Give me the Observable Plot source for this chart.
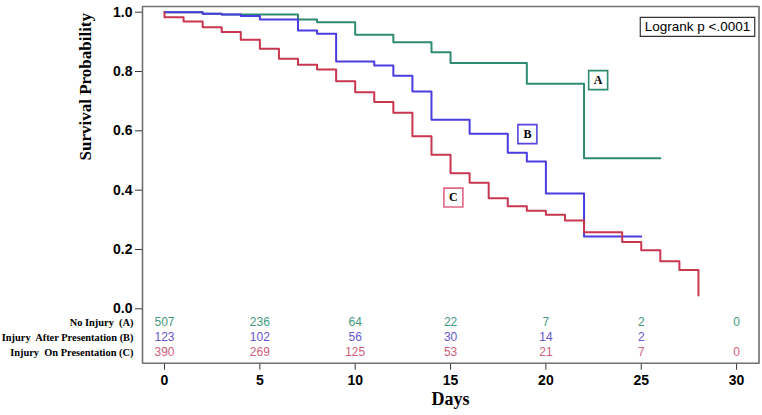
<!DOCTYPE html>
<html>
<head>
<meta charset="utf-8">
<script src="https://cdn.jsdelivr.net/npm/d3@7"></script>
<script src="https://cdn.jsdelivr.net/npm/@observablehq/plot@0.6"></script>
<style>
  html, body { margin: 0; padding: 0; background: #fff; color: #000; }
  svg text { white-space: pre; }
</style>
</head>
<body>
<div id="chart"></div>
<script>
// ---- Data ----
const groups = ["A", "B", "C"];
const groupNames = ["No Injury  (A)", "Injury  After Presentation (B)", "Injury  On Presentation (C)"];

// Kaplan-Meier step curves (event day, survival probability from that day on)
const daysA = [0, 2, 3, 7, 8, 10, 12, 14, 15, 19, 22, 26];
const survA = [1.0, 0.995, 0.992, 0.975, 0.966, 0.924, 0.899, 0.865, 0.829, 0.759, 0.508, 0.508];

const daysB = [0, 2, 3, 4, 5, 7, 8, 9, 11, 12, 13, 14, 16, 18, 19, 20, 22, 25];
const survB = [1.0, 0.995, 0.992, 0.987, 0.975, 0.938, 0.927, 0.834, 0.820, 0.786, 0.733, 0.637, 0.590, 0.526, 0.497, 0.389, 0.244, 0.244];

const daysC = [0, 0, 1, 2, 3, 4, 5, 6, 7, 8, 9, 10, 11, 12, 13, 14, 15, 16, 17, 18, 19, 20, 21, 22, 24, 25, 26, 27, 28];
const survC = [1.0, 0.983, 0.969, 0.949, 0.933, 0.907, 0.877, 0.843, 0.823, 0.807, 0.767, 0.730, 0.697, 0.661, 0.582, 0.519, 0.457, 0.425, 0.373, 0.346, 0.331, 0.317, 0.298, 0.258, 0.225, 0.197, 0.160, 0.131, 0.045];

// Number at risk table
const riskDays = [0, 5, 10, 15, 20, 25, 30];
const riskA = [507, 236, 64, 22, 7, 2, 0];
const riskB = [123, 102, 56, 30, 14, 2, null];
const riskC = [390, 269, 125, 53, 21, 7, 0];

// Curve label boxes (annotation positions in data units)
const labelDays = [22.74, 19.03, 15.15];
const labelSurv = [0.771, 0.589, 0.375];

// Axis ticks
const xTicks = [0, 5, 10, 15, 20, 25, 30];
const yTicks = [0, 0.2, 0.4, 0.6, 0.8, 1.0];

const logrankText = "Logrank p <.0001";

// ---- Scale extents (frame includes the at-risk table below 0) ----
const xDomain = [-1.154, 31.175];
const yDomain = [-0.1834, 1.0192];

// ---- Styles ----
const curveColors = ["#2e8a70", "#4a3de0", "#c8364f"];
const riskColors = ["#3f9a80", "#6657cc", "#d0607a"];
const boxColors = ["#2e8a70", "#5545dd", "#e06585"];

// ---- Build tables ----
const curveRows = [];
[[daysA, survA], [daysB, survB], [daysC, survC]].forEach(([d, s], gi) => {
  d.forEach((day, i) => curveRows.push({group: groups[gi], day, surv: s[i]}));
});

const riskSeries = [riskA, riskB, riskC];
const riskRows = groups.map((g, gi) =>
  riskDays.map((day, i) => ({group: g, day, n: riskSeries[gi][i]})).filter(r => r.n !== null)
);

const labelRows = groups.map((g, i) => ({group: g, day: labelDays[i], surv: labelSurv[i], color: boxColors[i]}));

// border outline at the scale extents
const borderRows = [
  {x: xDomain[0], y: yDomain[0]}, {x: xDomain[1], y: yDomain[0]},
  {x: xDomain[1], y: yDomain[1]}, {x: xDomain[0], y: yDomain[1]},
  {x: xDomain[0], y: yDomain[0]}
];

const serif = "'Liberation Serif', 'Times New Roman', serif";
const sans = "'Liberation Sans', Arial, sans-serif";

const chart = Plot.plot({
  width: 762,
  height: 415,
  marginLeft: 142,
  marginRight: 3.5,
  marginTop: 6,
  marginBottom: 52.3,
  x: {domain: xDomain},
  y: {domain: yDomain},
  color: {domain: groups, range: curveColors},
  marks: [
    Plot.axisY({ticks: yTicks, tickFormat: d3.format(".1f"), tickSize: 7, tickPadding: 3, fontFamily: sans, fontSize: 14, fontWeight: "bold", fill: "black", stroke: "#333", label: null}),
    Plot.axisX({ticks: xTicks, tickSize: 7, tickPadding: 5, fontFamily: sans, fontSize: 14, fontWeight: "bold", fill: "black", stroke: "#333", label: null}),
    Plot.line(curveRows, {x: "day", y: "surv", z: "group", stroke: "group", curve: "step-after", strokeWidth: 2}),
    // curve label boxes
    Plot.dot(labelRows, {x: "day", y: "surv", symbol: "square", r: 10.7, stroke: d => d.color, fill: "white", strokeWidth: 1.6}),
    Plot.text(labelRows, {x: "day", y: "surv", text: "group", fontFamily: serif, fontWeight: "bold", fontSize: 12, fill: "black"}),
    // logrank annotation
    Plot.text([logrankText], {frameAnchor: "top-right", dx: -61.5, dy: 15.2, text: d => d, textAnchor: "middle", fontFamily: sans, fontSize: 13.5, fill: "black"}),
    // at-risk numbers
    ...riskRows.map((rows, gi) =>
      Plot.text(rows, {x: "day", y: () => 0, dy: 13.4 + 15 * gi, text: d => String(d.n), fill: riskColors[gi], fontFamily: sans, fontSize: 12})
    ),
    // at-risk row labels
    ...groupNames.map((name, gi) =>
      Plot.text([name], {frameAnchor: "left", y: () => 0, dx: -9, dy: 13.4 + 15 * gi, text: d => d, textAnchor: "end", fontFamily: serif, fontWeight: "bold", fontSize: 10.4, fill: "black"})
    ),
    // axis titles
    Plot.text(["Days"], {x: () => 15, frameAnchor: "bottom", dy: 41.5, text: d => d, fontFamily: serif, fontWeight: "bold", fontSize: 18, fill: "black"}),
    Plot.text(["Survival Probability"], {y: () => 0.5, frameAnchor: "left", dx: -57, rotate: -90, text: d => d, fontFamily: serif, fontWeight: "bold", fontSize: 17, fill: "black"}),
    // plot border
    Plot.line(borderRows, {x: "x", y: "y", stroke: "#707070", strokeWidth: 1.6})
  ]
});

document.getElementById("chart").appendChild(chart);

// draw a box round the logrank annotation (as a path)
const t = [...chart.querySelectorAll("text")].find(el => el.textContent === logrankText);
if (t) {
  const bb = t.getBBox();
  const cx = bb.x + bb.width / 2, cy = bb.y + bb.height / 2;
  const w = bb.width + 9, h = 19;
  const x0 = cx - w / 2, y0 = cy - h / 2;
  const path = document.createElementNS("http://www.w3.org/2000/svg", "path");
  path.setAttribute("d", `M${x0},${y0}H${x0 + w}V${y0 + h}H${x0}Z`);
  path.setAttribute("fill", "white");
  path.setAttribute("stroke", "#333");
  path.setAttribute("stroke-width", "1.2");
  const tr = t.getAttribute("transform");
  if (tr) path.setAttribute("transform", tr);
  t.parentNode.insertBefore(path, t);
}
</script>
</body>
</html>
